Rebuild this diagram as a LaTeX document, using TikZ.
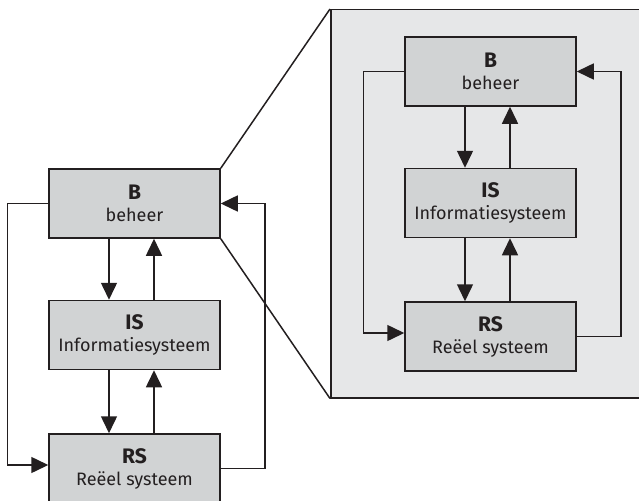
\documentclass[tikz,border=0pt]{standalone}
\usepackage{fontspec}
\setmainfont{Fira Sans}
\usetikzlibrary{arrows.meta,positioning}
\definecolor{blokgray}{HTML}{D1D3D4}
\definecolor{vlakgray}{HTML}{E6E7E8}
\definecolor{inkt}{HTML}{231F20}
\newcommand{\kop}[1]{{\fontsize{21}{24}\selectfont\bfseries #1}}
\begin{document}
\begin{tikzpicture}[x=1pt,y=-1pt,>={Triangle[length=17pt,width=16pt]}]
    \tikzstyle{blok}=[draw=inkt, fill=blokgray, line width=1.5pt,
    minimum width=171pt, minimum height=69pt, inner sep=0pt, text=inkt,
    align=center, font=\fontsize{18}{22}\selectfont]
    \tikzstyle{pijl}=[->, line width=1.5pt, inkt]
    \useasboundingbox (0,0) rectangle (639,500);

    % uitvergroting
    \node[draw=inkt, fill=vlakgray, line width=1.5pt, inner sep=0pt,
    minimum width=330pt, minimum height=388pt, anchor=north west]
    at (330,9) (vlak) {};

    % links
    \node[blok] at (134.5,203.5) (b) {\kop{B}\\beheer};
    \node[blok] at (134.5,335) (is) {\kop{IS}\\Informatiesysteem};
    \node[blok] at (134.5,468.5) (rs) {\kop{RS}\\Reëel systeem};

    \draw[line width=1.5pt, inkt] (b.north east) -- (vlak.north west);
    \draw[line width=1.5pt, inkt] (b.south east) -- (vlak.south west);

    \draw[pijl] ([xshift=-25.5pt]b.south) -- ([xshift=-25.5pt]is.north);
    \draw[pijl] ([xshift=19.5pt]is.north) -- ([xshift=19.5pt]b.south);
    \draw[pijl] ([xshift=-25.5pt]is.south) -- ([xshift=-25.5pt]rs.north);
    \draw[pijl] ([xshift=19.5pt]rs.north) -- ([xshift=19.5pt]is.south);
    \draw[pijl] (b.west) -- ++(-41,0) |- ([yshift=3.5pt]rs.west);
    \draw[pijl] (rs.east) -- ++(44,0) |- (b.east);

    % rechts
    \node[blok] at (490.5,71.5) (b2) {\kop{B}\\beheer};
    \node[blok] at (490.5,203) (is2) {\kop{IS}\\Informatiesysteem};
    \node[blok] at (490.5,336.5) (rs2) {\kop{RS}\\Reëel systeem};

    \draw[pijl] ([xshift=-25.5pt]b2.south) -- ([xshift=-25.5pt]is2.north);
    \draw[pijl] ([xshift=19.5pt]is2.north) -- ([xshift=19.5pt]b2.south);
    \draw[pijl] ([xshift=-25.5pt]is2.south) -- ([xshift=-25.5pt]rs2.north);
    \draw[pijl] ([xshift=19.5pt]rs2.north) -- ([xshift=19.5pt]is2.south);
    \draw[pijl] (b2.west) -- ++(-41,0) |- ([yshift=3.5pt]rs2.west);
    \draw[pijl] (rs2.east) -- ++(44,0) |- (b2.east);
\end{tikzpicture}
\end{document}
